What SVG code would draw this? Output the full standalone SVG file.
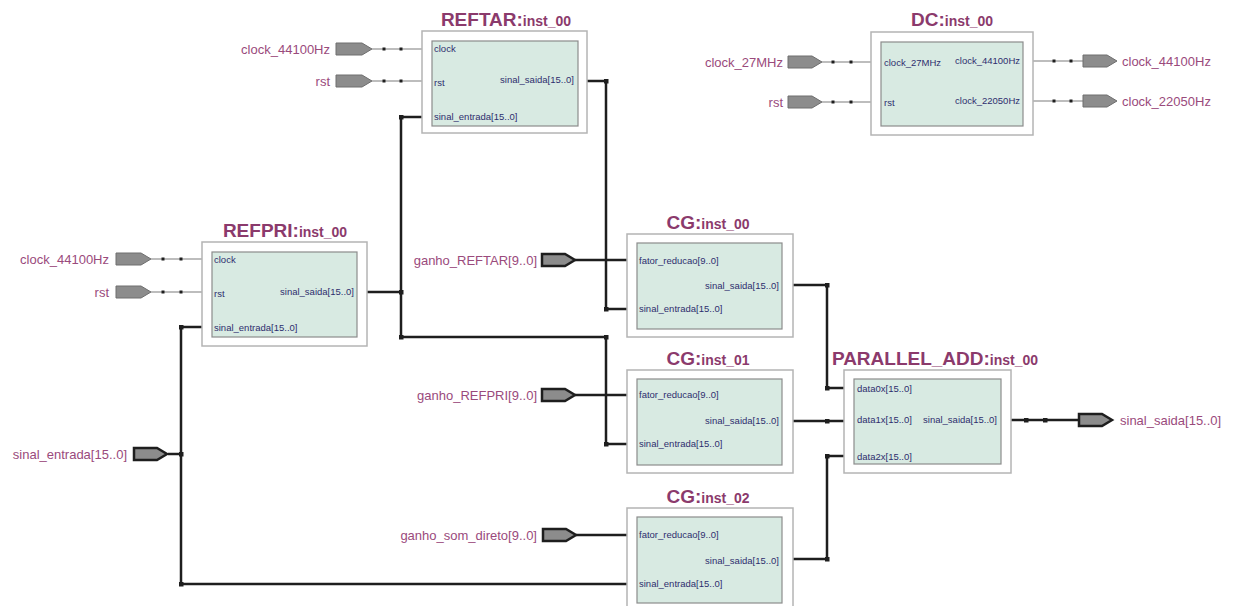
<svg xmlns="http://www.w3.org/2000/svg" width="1236" height="606" viewBox="0 0 1236 606">
<style>
.bg{fill:#ffffff}
.outer{fill:#ffffff;stroke:#b4b4b4;stroke-width:1.5}
.inner{fill:#d8eae2;stroke:#8c8c8c;stroke-width:1.2}
.title{font-family:"Liberation Sans",Arial,sans-serif;font-weight:bold;fill:#8b3a6c}
.big{font-size:19px}
.small{font-size:14px}
.port{font-family:"Liberation Sans",Arial,sans-serif;font-size:9.5px;fill:#2e2e6e}
.plabel{font-family:"Liberation Sans",Arial,sans-serif;font-size:13px;fill:#9a4a7c}
.pin{fill:#8c8c8c;stroke:#6e6e6e;stroke-width:1}
.bpin{fill:#8c8c8c;stroke:#1e1e1e;stroke-width:2.5;stroke-linejoin:miter}
.bus{fill:none;stroke:#1e1e1e;stroke-width:2.5}
.wire{fill:none;stroke:#a8a8a8;stroke-width:1.3}
.dot{fill:#1e1e1e}
.sdot{fill:#1e1e1e}
</style>
<rect class="bg" x="0" y="0" width="1236" height="606"/>

<g id="connectors">
  <!-- single-bit wires -->
  <path class="wire" d="M372,49 H422 M372,81 H422"/>
  <path class="wire" d="M151,259 H202 M151,292 H202"/>
  <path class="wire" d="M822,62 H871 M822,102 H871"/>
  <path class="wire" d="M1033,61 H1083 M1033,101 H1083"/>
  <!-- bus wires -->
  <path class="bus" d="M587,81 H606 V309 H627"/>
  <path class="bus" d="M422,117 H401 V337 H606 V444 H627"/>
  <path class="bus" d="M367,292 H401"/>
  <path class="bus" d="M575,260 H627"/>
  <path class="bus" d="M575,395 H627"/>
  <path class="bus" d="M576,535 H627"/>
  <path class="bus" d="M168,454 H181"/>
  <path class="bus" d="M202,327 H181 V584 H627"/>
  <path class="bus" d="M793,285 H827 V388 H844"/>
  <path class="bus" d="M793,421 H844"/>
  <path class="bus" d="M793,559 H827 V456 H844"/>
  <path class="bus" d="M1011,420 H1078"/>
  <!-- junction dots -->
  <g class="sdot">
    <rect x="382.5" y="47.5" width="3" height="3"/><rect x="399.5" y="47.5" width="3" height="3"/>
    <rect x="382.5" y="79.5" width="3" height="3"/><rect x="399.5" y="79.5" width="3" height="3"/>
    <rect x="161.5" y="257.5" width="3" height="3"/><rect x="179.5" y="257.5" width="3" height="3"/>
    <rect x="161.5" y="290.5" width="3" height="3"/><rect x="179.5" y="290.5" width="3" height="3"/>
    <rect x="831.5" y="60.5" width="3" height="3"/><rect x="849.5" y="60.5" width="3" height="3"/>
    <rect x="831.5" y="100.5" width="3" height="3"/><rect x="849.5" y="100.5" width="3" height="3"/>
    <rect x="1052.5" y="59.5" width="3" height="3"/><rect x="1069.5" y="59.5" width="3" height="3"/>
    <rect x="1052.5" y="99.5" width="3" height="3"/><rect x="1069.5" y="99.5" width="3" height="3"/>
  </g>
  <g class="dot">
    <rect x="604" y="79" width="4.5" height="4.5"/>
    <rect x="604" y="307" width="4.5" height="4.5"/>
    <rect x="399" y="115" width="4.5" height="4.5"/>
    <rect x="399" y="290" width="4.5" height="4.5"/>
    <rect x="399" y="335" width="4.5" height="4.5"/>
    <rect x="604" y="335" width="4.5" height="4.5"/>
    <rect x="604" y="442" width="4.5" height="4.5"/>
    <rect x="179" y="325" width="4.5" height="4.5"/>
    <rect x="179" y="452" width="4.5" height="4.5"/>
    <rect x="179" y="582" width="4.5" height="4.5"/>
    <rect x="825" y="283" width="4.5" height="4.5"/>
    <rect x="825" y="386" width="4.5" height="4.5"/>
    <rect x="825" y="419" width="4.5" height="4.5"/>
    <rect x="825" y="557" width="4.5" height="4.5"/>
    <rect x="825" y="454" width="4.5" height="4.5"/>
    <rect x="1024" y="418" width="4.5" height="4.5"/>
    <rect x="1043" y="418" width="4.5" height="4.5"/>
  </g>
</g>

<g id="pins">
  <g id="pin_reftar_clock"><polygon class="pin" points="336,43 362,43 372,49 362,55 336,55"/><text class="plabel" x="330" y="53.5" text-anchor="end">clock_44100Hz</text></g>
  <g id="pin_reftar_rst"><polygon class="pin" points="336,75 362,75 372,81 362,87 336,87"/><text class="plabel" x="330" y="85.5" text-anchor="end">rst</text></g>
  <g id="pin_refpri_clock"><polygon class="pin" points="116,253 141,253 151,259 141,265 116,265"/><text class="plabel" x="109" y="263.5" text-anchor="end">clock_44100Hz</text></g>
  <g id="pin_refpri_rst"><polygon class="pin" points="116,286 141,286 151,292 141,298 116,298"/><text class="plabel" x="109" y="296.5" text-anchor="end">rst</text></g>
  <g id="pin_dc_clock"><polygon class="pin" points="788,56 812,56 822,62 812,68 788,68"/><text class="plabel" x="783" y="66.5" text-anchor="end">clock_27MHz</text></g>
  <g id="pin_dc_rst"><polygon class="pin" points="788,96 812,96 822,102 812,108 788,108"/><text class="plabel" x="783" y="106.5" text-anchor="end">rst</text></g>
  <g id="pin_dc_out44"><polygon class="pin" points="1083,55 1107,55 1117,61 1107,67 1083,67"/><text class="plabel" x="1122" y="65.5">clock_44100Hz</text></g>
  <g id="pin_dc_out22"><polygon class="pin" points="1083,95 1107,95 1117,101 1107,107 1083,107"/><text class="plabel" x="1122" y="105.5">clock_22050Hz</text></g>
  <g id="pin_ganho_reftar"><polygon class="bpin" points="542,254 565,254 575,260 565,266 542,266"/><text class="plabel" x="537" y="264.5" text-anchor="end">ganho_REFTAR[9..0]</text></g>
  <g id="pin_ganho_refpri"><polygon class="bpin" points="542,389 565,389 575,395 565,401 542,401"/><text class="plabel" x="537" y="399.5" text-anchor="end">ganho_REFPRI[9..0]</text></g>
  <g id="pin_ganho_som"><polygon class="bpin" points="543,529 566,529 576,535 566,541 543,541"/><text class="plabel" x="537" y="539.5" text-anchor="end">ganho_som_direto[9..0]</text></g>
  <g id="pin_sinal_entrada"><polygon class="bpin" points="134,448 157,448 167,454 157,460 134,460"/><text class="plabel" x="127" y="458.5" text-anchor="end">sinal_entrada[15..0]</text></g>
  <g id="pin_sinal_saida"><polygon class="bpin" points="1079,414 1102,414 1112,420 1102,426 1079,426"/><text class="plabel" x="1120" y="424.5">sinal_saida[15..0]</text></g>
</g>

<g id="REFTAR_inst_00">
  <rect class="outer" x="422" y="31" width="165" height="102"/>
  <rect class="inner" x="432" y="41" width="146" height="85"/>
  <text class="title" x="506" y="26" text-anchor="middle"><tspan class="big">REFTAR:</tspan><tspan class="small">inst_00</tspan></text>
  <text class="port" x="434" y="52">clock</text>
  <text class="port" x="434" y="86">rst</text>
  <text class="port" x="574" y="83" text-anchor="end">sinal_saida[15..0]</text>
  <text class="port" x="434" y="120">sinal_entrada[15..0]</text>
</g>

<g id="DC_inst_00">
  <rect class="outer" x="871" y="32" width="162" height="103"/>
  <rect class="inner" x="881" y="42" width="142" height="84"/>
  <text class="title" x="952" y="26" text-anchor="middle"><tspan class="big">DC:</tspan><tspan class="small">inst_00</tspan></text>
  <text class="port" x="884" y="66">clock_27MHz</text>
  <text class="port" x="884" y="106">rst</text>
  <text class="port" x="1020" y="64" text-anchor="end">clock_44100Hz</text>
  <text class="port" x="1020" y="104" text-anchor="end">clock_22050Hz</text>
</g>

<g id="REFPRI_inst_00">
  <rect class="outer" x="202" y="242" width="165" height="104"/>
  <rect class="inner" x="212" y="252" width="145" height="85"/>
  <text class="title" x="285" y="237" text-anchor="middle"><tspan class="big">REFPRI:</tspan><tspan class="small">inst_00</tspan></text>
  <text class="port" x="214" y="263">clock</text>
  <text class="port" x="214" y="297">rst</text>
  <text class="port" x="354" y="295" text-anchor="end">sinal_saida[15..0]</text>
  <text class="port" x="214" y="331">sinal_entrada[15..0]</text>
</g>

<g id="CG_inst_00">
  <rect class="outer" x="627" y="234" width="166" height="103"/>
  <rect class="inner" x="637" y="243" width="145" height="86"/>
  <text class="title" x="708" y="229" text-anchor="middle"><tspan class="big">CG:</tspan><tspan class="small">inst_00</tspan></text>
  <text class="port" x="639" y="264">fator_reducao[9..0]</text>
  <text class="port" x="779" y="289" text-anchor="end">sinal_saida[15..0]</text>
  <text class="port" x="639" y="312">sinal_entrada[15..0]</text>
</g>

<g id="CG_inst_01">
  <rect class="outer" x="627" y="370" width="166" height="103"/>
  <rect class="inner" x="637" y="379" width="145" height="86"/>
  <text class="title" x="708" y="365" text-anchor="middle"><tspan class="big">CG:</tspan><tspan class="small">inst_01</tspan></text>
  <text class="port" x="639" y="398">fator_reducao[9..0]</text>
  <text class="port" x="779" y="424" text-anchor="end">sinal_saida[15..0]</text>
  <text class="port" x="639" y="447">sinal_entrada[15..0]</text>
</g>

<g id="CG_inst_02">
  <rect class="outer" x="627" y="508" width="166" height="103"/>
  <rect class="inner" x="637" y="517" width="145" height="86"/>
  <text class="title" x="708" y="503" text-anchor="middle"><tspan class="big">CG:</tspan><tspan class="small">inst_02</tspan></text>
  <text class="port" x="639" y="538">fator_reducao[9..0]</text>
  <text class="port" x="779" y="564" text-anchor="end">sinal_saida[15..0]</text>
  <text class="port" x="639" y="587">sinal_entrada[15..0]</text>
</g>

<g id="PARALLEL_ADD_inst_00">
  <rect class="outer" x="844" y="370" width="167" height="103"/>
  <rect class="inner" x="854" y="379" width="147" height="85"/>
  <text class="title" x="935" y="365" text-anchor="middle"><tspan class="big">PARALLEL_ADD:</tspan><tspan class="small">inst_00</tspan></text>
  <text class="port" x="857" y="392">data0x[15..0]</text>
  <text class="port" x="857" y="423">data1x[15..0]</text>
  <text class="port" x="997" y="423" text-anchor="end">sinal_saida[15..0]</text>
  <text class="port" x="857" y="460">data2x[15..0]</text>
</g>
</svg>
